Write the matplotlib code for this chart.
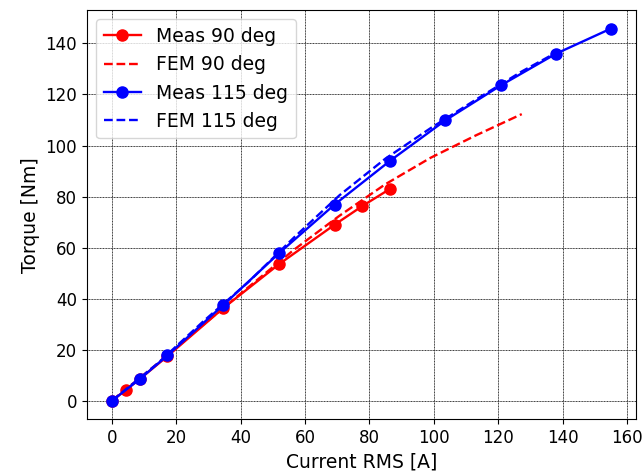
import matplotlib
matplotlib.use("Agg")
import matplotlib.pyplot as plt

# measured points, 90 deg current angle
meas90_i = [0, 4.3, 8.65, 17.3, 34.6, 51.9, 69.2, 77.8, 86.5]
meas90_t = [0, 4.2, 8.5, 17.5, 36.3, 53.5, 69.0, 76.3, 83.1]

# FEM, 90 deg
fem90_i = [0, 14.1, 28.3, 42.4, 56.6, 70.7, 84.9, 99.0, 113.1, 127.3]
fem90_t = [0, 14.5, 29.7, 44.5, 59.2, 72.5, 84.8, 95.2, 104.0, 112.3]

# measured points, 115 deg
meas115_i = [0, 8.65, 17.3, 34.6, 51.9, 69.2, 86.5, 103.5, 121.0, 138.0, 155.0]
meas115_t = [0, 8.5, 17.8, 37.5, 57.8, 76.9, 94.1, 109.8, 123.7, 136.0, 145.8]

# FEM, 115 deg
fem115_i = [0, 14.1, 28.3, 42.4, 56.6, 70.7, 84.9, 99.0, 113.1, 127.3, 138.6]
fem115_t = [0, 14.5, 31.0, 46.5, 64.0, 80.5, 94.8, 106.8, 118.0, 129.0, 136.8]

plt.rcParams['font.size'] = 12
fig, ax = plt.subplots(figsize=(6.43, 4.74), dpi=100)
fig.subplots_adjust(left=0.135, right=0.989, bottom=0.115, top=0.979)

ax.plot(meas90_i, meas90_t, 'r-o', lw=1.7, ms=8, label='Meas 90 deg')
ax.plot(fem90_i, fem90_t, 'r--', lw=1.7, label='FEM 90 deg')
ax.plot(meas115_i, meas115_t, 'b-o', lw=1.7, ms=8, label='Meas 115 deg')
ax.plot(fem115_i, fem115_t, 'b--', lw=1.7, label='FEM 115 deg')

ax.set_xticks(range(0, 161, 20))
ax.set_yticks(range(0, 141, 20))
ax.grid(True, color='0.2', linestyle=(0, (1, 0.6)), linewidth=0.7)
ax.set_xlabel('Current RMS [A]', fontsize=13.5)
ax.set_ylabel('Torque [Nm]', fontsize=13.5)
ax.legend(loc='upper left', fontsize=13.5)

fig.savefig('out.png', dpi=100)
